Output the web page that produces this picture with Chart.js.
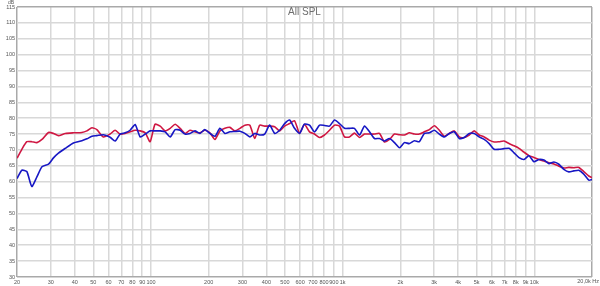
<!DOCTYPE html>
<html>
<head>
<meta charset="utf-8">
<script src="https://cdn.jsdelivr.net/npm/chart.js@4.4.0/dist/chart.umd.min.js"></script>
<style>
  html, body { margin: 0; padding: 0; background: #fff; }
</style>
</head>
<body>
<canvas id="splChart" width="600" height="286"></canvas>
<script>
// frequency points (Hz)
const freqs = [20, 21.2, 22.5, 23.9, 25.4, 27, 29.2, 31, 32.9, 35.7, 39.4, 43.6, 46.3, 49.2, 52.2, 56.4,
    61.2, 65, 69, 73.3, 77.8, 82.7, 87.8, 93.3, 99, 105, 111.7, 118.6, 126, 133.7, 141.9, 150.6, 159.8, 169.6, 180,
    191, 203, 215.6, 229, 243, 258, 274, 291, 309, 328, 348, 369, 392, 416, 442, 469, 498, 529, 561,
    596, 632, 672, 713, 758, 804, 854, 907, 963, 1023, 1086, 1153, 1225, 1300, 1381, 1466, 1557, 1653, 1755,
    1863, 1978, 2100, 2230, 2368, 2514, 2669, 2834, 3009, 3195, 3392, 3601, 3823, 4060, 4310, 4576, 4858, 5158, 5476,
    5814, 6172, 6551, 6954, 7384, 7838, 8322, 8835, 9380, 9959, 10574, 11227, 11920, 12655, 13434, 14263, 15143, 16080, 17067, 18120, 19240, 20000];

const redSpl = [67.4, 70.2, 72.6, 72.6, 72.3, 73.3, 75.5, 75.2, 74.5, 75.2, 75.4, 75.5, 76.0, 77.0, 76.4, 74.1,
    75.0, 76.2, 75.0, 75.2, 75.7, 76.2, 76.0, 75.4, 72.6, 78.1, 77.5, 76.0, 76.8, 78.1, 76.8, 75.2, 76.2, 75.7, 75.4,
    76.2, 75.4, 73.3, 76.0, 76.8, 77.1, 76.0, 76.8, 77.8, 77.8, 73.6, 77.8, 77.5, 77.5, 77.3, 76.0, 77.5, 78.3, 79.2,
    75.2, 78.1, 75.7, 75.0, 73.9, 74.7, 76.2, 77.8, 77.5, 74.1, 74.1, 75.3, 73.9, 75.0, 75.0, 75.0, 75.2, 72.5, 73.3,
    75.0, 74.8, 74.7, 75.4, 75.0, 75.0, 75.7, 76.4, 77.6, 76.2, 74.3, 75.2, 76.0, 74.1, 73.9, 74.7, 76.0, 74.7, 74.1,
    73.1, 72.5, 72.6, 72.8, 72.0, 71.3, 70.5, 69.3, 68.2, 67.6, 67.0, 66.5, 66.0, 65.6, 64.9, 64.3, 64.5, 64.4, 64.5, 63.2, 61.8, 61.3];

const blueSpl = [61.0, 63.6, 63.2, 58.5, 61.5, 64.7, 65.5, 67.5, 69.0, 70.5, 72.2, 72.9, 73.5, 74.3, 74.5, 74.8,
    74.0, 72.8, 75.0, 75.4, 76.2, 78.0, 74.1, 75.0, 76.0, 76.0, 76.0, 75.7, 74.1, 76.4, 76.2, 75.0, 75.2, 76.0, 75.2,
    76.4, 75.2, 74.3, 76.8, 75.2, 75.7, 75.8, 75.9, 75.2, 74.1, 75.2, 74.7, 75.0, 77.8, 75.2, 76.2, 78.3, 79.4, 76.8,
    75.2, 78.1, 77.8, 75.7, 77.8, 77.7, 77.5, 79.4, 78.3, 76.8, 76.8, 76.8, 74.7, 77.5, 75.7, 73.6, 73.6, 72.8, 73.6,
    72.3, 70.7, 72.3, 72.0, 72.9, 72.6, 75.2, 75.4, 76.2, 75.0, 74.1, 75.2, 75.7, 73.6, 73.9, 75.2, 75.2, 74.1, 73.3,
    72.0, 70.2, 70.2, 70.4, 70.5, 69.1, 67.6, 67.0, 68.2, 66.3, 67.0, 66.8, 65.7, 66.2, 65.5, 63.9, 63.1, 63.4, 63.6, 62.4, 60.5, 60.7];

const xTicks = [20, 30, 40, 50, 60, 70, 80, 90, 100, 200, 300, 400, 500, 600, 700, 800, 900,
    1000, 2000, 3000, 4000, 5000, 6000, 7000, 8000, 9000, 10000, 20000];
const xTickLabels = ['20', '30', '40', '50', '60', '70', '80', '90', '100', '200', '300', '400', '500', '600', '700', '800', '900',
    '1k', '2k', '3k', '4k', '5k', '6k', '7k', '8k', '9k', '10k', '20,0k Hz'];

const yMin = 30;
const yMax = 115;
const yStep = 5;

const FONT = '"Liberation Sans", Arial, sans-serif';

function toPoints(vals) {
    return freqs.map((f, i) => ({ x: f, y: vals[i] }));
}

// title, unit label and the last x label (kept inside the canvas)
const overlay = {
    id: 'overlay',
    afterDraw(chart) {
        const c = chart.ctx;
        const a = chart.chartArea;
        c.save();
        c.fillStyle = '#6e6e6e';
        c.textAlign = 'center';
        c.textBaseline = 'middle';
        c.font = '10px ' + FONT;
        c.fillText('All SPL', (a.left + a.right) / 2, 12);
        c.font = '5px ' + FONT;
        c.fillStyle = '#555';
        c.fillText('dB', 11, 3);
        c.textAlign = 'right';
        c.font = '5.5px ' + FONT;
        c.fillText(xTickLabels[xTickLabels.length - 1], 599, a.bottom + 4.5);
        c.restore();
    }
};

const ctx = document.getElementById('splChart').getContext('2d');
const splChart = new Chart(ctx, {
    type: 'line',
    data: {
        datasets: [
            {
                label: 'blue',
                data: toPoints(blueSpl),
                borderColor: '#1717c4',
                borderWidth: 1.6,
                pointRadius: 0,
                tension: 0.2,
            },
            {
                label: 'red',
                data: toPoints(redSpl),
                borderColor: '#cf1742',
                borderWidth: 1.6,
                pointRadius: 0,
                tension: 0.2,
            },
        ],
    },
    options: {
        responsive: false,
        devicePixelRatio: 1,
        animation: false,
        layout: { padding: { left: 0, top: 7, right: 8, bottom: 0 } },
        plugins: {
            legend: { display: false },
            tooltip: { enabled: false },
        },
        scales: {
            x: {
                type: 'logarithmic',
                min: 20,
                max: 20000,
                afterBuildTicks: (s) => { s.ticks = xTicks.map(v => ({ value: v })); },
                afterFit: (s) => { s.height = 9; s.paddingLeft = 0; s.paddingRight = 0; },
                border: { display: false },
                grid: {
                    drawTicks: false,
                    lineWidth: 1.5,
                    color: (c) => (c.tick && (c.tick.value === 20 || c.tick.value === 20000)) ? '#a9a9a9' : '#d8d8d8',
                },
                ticks: {
                    autoSkip: false,
                    maxRotation: 0,
                    padding: 2,
                    color: '#555',
                    font: { family: FONT, size: 5.5 },
                    callback: (v) => {
                        const i = xTicks.indexOf(v);
                        // last label is drawn by the overlay so it stays on the canvas
                        return (i >= 0 && i < xTicks.length - 1) ? xTickLabels[i] : '';
                    },
                },
            },
            y: {
                min: yMin,
                max: yMax,
                afterFit: (s) => { s.width = 17; s.paddingTop = 0; s.paddingBottom = 0; },
                border: { display: false },
                grid: {
                    drawTicks: false,
                    lineWidth: 1.5,
                    color: (c) => (c.tick && (c.tick.value === yMax || c.tick.value === yMin)) ? '#a9a9a9' : '#d8d8d8',
                },
                ticks: {
                    stepSize: yStep,
                    padding: 2,
                    color: '#555',
                    font: { family: FONT, size: 5.5 },
                },
            },
        },
    },
    plugins: [overlay],
});
</script>
</body>
</html>
